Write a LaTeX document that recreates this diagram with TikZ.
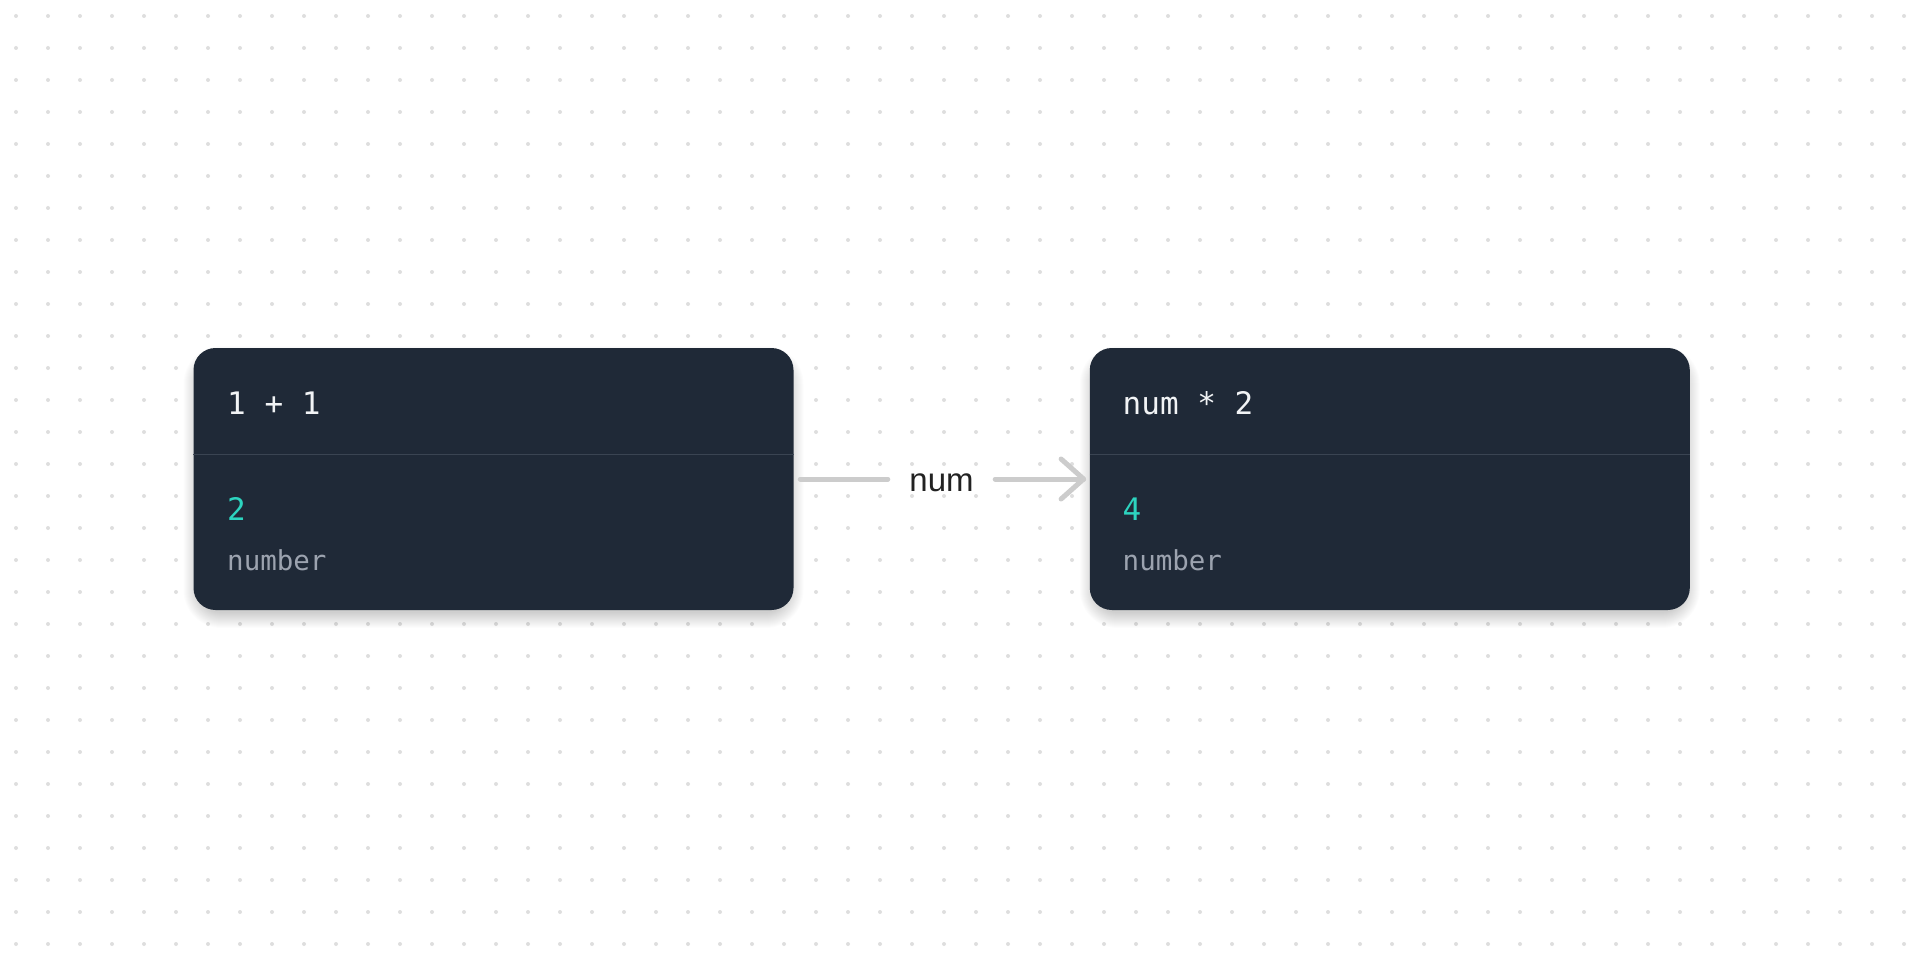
\documentclass[tikz,border=0pt]{standalone}
\usepackage{fontspec}
\setmainfont{Liberation Sans}
\newfontfamily\codefont{DejaVu Sans Mono}
\usetikzlibrary{calc}
\definecolor{boxbg}{HTML}{1F2937}
\definecolor{divc}{HTML}{3A4452}
\definecolor{headc}{HTML}{F1F3F5}
\definecolor{valc}{HTML}{2DD4BF}
\definecolor{typec}{HTML}{9CA3AF}
\definecolor{dotc}{HTML}{DEDEDE}
\definecolor{connc}{HTML}{CCCCCC}
\definecolor{labc}{HTML}{222222}
\tikzset{
  cardbox/.style={fill=boxbg, draw=none, rounded corners=22pt, minimum width=600pt, minimum height=262pt, inner sep=0pt},
  shadowlayer/.style={fill=black, fill opacity=0.011, draw=none},
  divline/.style={draw=divc, line width=1.5pt},
  headtxt/.style={anchor=base west, inner sep=0pt, text=headc, font=\codefont\fontsize{31}{36}\selectfont},
  valtxt/.style={anchor=base west, inner sep=0pt, text=valc, font=\codefont\fontsize{31}{36}\selectfont},
  typetxt/.style={anchor=base west, inner sep=0pt, text=typec, font=\codefont\fontsize{27.5}{32}\selectfont},
  conn/.style={draw=connc, line width=5pt, line cap=round, line join=round},
  labtxt/.style={text=labc, font=\fontsize{33}{38}\selectfont, minimum width=107pt, inner xsep=0pt, inner ysep=0pt, anchor=base}
}
\begin{document}
\begin{tikzpicture}[x=1pt,y=-1pt]
\fill[white] (0,0) rectangle (1920,960);
\useasboundingbox (0,0) rectangle (1920,960);
\foreach \i in {0,...,59} {
  \foreach \j in {0,...,29} {
    \fill[dotc] (16+32*\i,16+32*\j) circle (2);
  }
}
% shadows
\foreach \cx in {493.5,1389.8} {
  \foreach \k in {1,...,16} {
    \fill[shadowlayer, rounded corners=22+\k] (\cx-300-\k+6,348-\k+14) rectangle (\cx+300+\k-6,610+\k+2);
  }
}
% cards
\node[cardbox] (L) at (493.5,479) {};
\node[cardbox] (R) at (1389.8,479) {};
\draw[divline] ($(L.west)+(0,-24.7)$) coordinate (Ld1) -- ($(L.east)+(0,-24.7)$) coordinate (Ld2);
\draw[divline] ($(R.west)+(0,-24.7)$) coordinate (Rd1) -- ($(R.east)+(0,-24.7)$) coordinate (Rd2);
% texts left
\node[headtxt] (Lh) at (227,414) {1 + 1};
\node[valtxt] (Lv) at (227,520.5) {2};
\node[typetxt] (Lt) at (227,570) {number};
% texts right
\node[headtxt] (Rh) at (1122.5,414) {num * 2};
\node[valtxt] (Rv) at (1122.5,520.5) {4};
\node[typetxt] (Rt) at (1122.5,570) {number};
% connector
\node[labtxt] (lab) at (941.5,491) {num};
\draw[conn] ($(L.east)+(6.5,0)$) -- (lab.west |- L.east);
\draw[conn] (lab.east |- R.west) -- ($(R.west)+(-6,0)$);
\draw[conn] ($(R.west)+(-28.5,-20)$) -- ($(R.west)+(-6,0)$) -- ($(R.west)+(-28.5,20)$);
\end{tikzpicture}
\end{document}
